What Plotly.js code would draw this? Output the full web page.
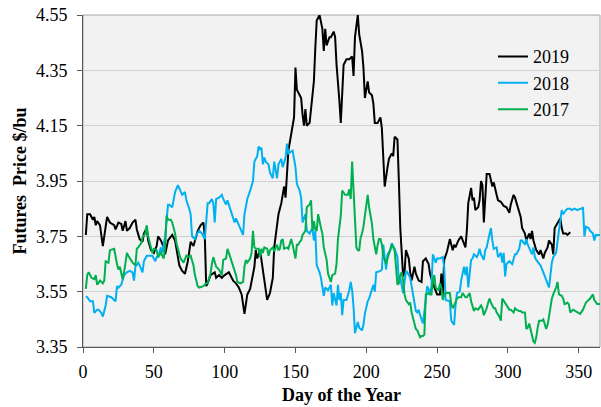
<!DOCTYPE html>
<html>
<head>
<meta charset="utf-8">
<script src="https://cdn.plot.ly/plotly-3.0.1.min.js"></script>
<style>html,body{margin:0;padding:0;background:#fff;}#chart{width:601px;height:407px;}</style>
</head>
<body>
<div id="chart"></div>
<script>
const seriesNames = ["2019", "2018", "2017"];
const seriesColors = ["#000000", "#00b0f0", "#00b050"];

const days2019 = [2,3,5,7,8,9,10,12,14,16,17,19,22,23,25,27,28,30,31,33,35,37,38,40,42,43,45,46,48,50,52,53,55,57,58,60,63,65,68,70,72,74,76,78,81,83,85,86,87,88,90,93,94,96,98,100,103,106,108,110,112,114,116,118,119,121,122,123,125,126,128,130,132,134,135,137,138,140,142,143,144,145,147,149,150,151,153,154,155,156,157,158,160,162,163,164,165,167,169,170,171,172,174,175,177,178,179,181,182,184,186,188,190,191,192,194,195,197,198,199,201,202,204,205,206,208,210,211,213,215,216,218,219,220,222,223,224,226,227,228,230,231,232,234,235,237,239,240,242,244,245,247,249,250,252,253,254,255,257,258,259,261,262,263,265,267,268,270,271,272,274,275,276,277,279,280,281,282,283,285,286,287,289,290,292,293,295,297,299,301,302,304,305,307,309,310,312,313,315,316,317,318,320,322,323,325,326,328,329,331,332,333,335,336,337,338,339,341,342,344];
const price2019 = [3.755,3.83,3.83,3.81,3.82,3.79,3.805,3.79,3.715,3.80,3.82,3.80,3.79,3.775,3.80,3.795,3.77,3.805,3.77,3.78,3.80,3.81,3.775,3.74,3.73,3.76,3.78,3.735,3.70,3.69,3.715,3.75,3.735,3.71,3.685,3.735,3.755,3.735,3.645,3.625,3.615,3.66,3.73,3.715,3.77,3.79,3.80,3.75,3.57,3.58,3.61,3.62,3.60,3.61,3.60,3.61,3.62,3.59,3.58,3.565,3.54,3.47,3.54,3.56,3.59,3.64,3.70,3.67,3.70,3.665,3.60,3.52,3.545,3.60,3.71,3.80,3.83,3.87,3.93,3.89,3.98,4.06,4.12,4.18,4.36,4.28,4.26,4.25,4.19,4.15,4.21,4.15,4.16,4.25,4.31,4.43,4.53,4.55,4.50,4.42,4.50,4.44,4.47,4.47,4.49,4.47,4.37,4.24,4.16,4.37,4.39,4.39,4.40,4.33,4.47,4.55,4.48,4.42,4.36,4.25,4.31,4.27,4.26,4.23,4.16,4.16,4.18,4.14,3.93,4.00,4.03,4.05,4.04,4.11,4.10,3.95,3.78,3.605,3.62,3.70,3.67,3.62,3.59,3.64,3.615,3.59,3.585,3.66,3.67,3.65,3.615,3.58,3.555,3.54,3.54,3.615,3.54,3.665,3.695,3.72,3.74,3.70,3.72,3.71,3.735,3.75,3.735,3.71,3.77,3.87,3.925,3.88,3.89,3.845,3.855,3.88,3.95,3.935,3.80,3.975,3.975,3.975,3.93,3.945,3.90,3.88,3.875,3.86,3.855,3.835,3.865,3.90,3.89,3.855,3.82,3.78,3.76,3.735,3.76,3.74,3.77,3.735,3.70,3.685,3.70,3.67,3.69,3.71,3.735,3.72,3.685,3.78,3.80,3.81,3.815,3.78,3.76,3.76,3.755,3.765];

const days2018 = [2,3,5,7,8,10,11,13,14,16,17,20,22,23,24,25,27,29,31,33,35,36,37,39,40,42,43,45,47,49,51,52,53,55,56,58,60,61,63,64,65,67,69,70,72,73,75,76,77,79,80,82,84,86,88,89,91,92,93,94,96,98,99,101,102,104,105,107,108,110,111,113,114,116,118,120,121,123,124,125,126,127,128,129,131,132,134,135,137,138,140,141,143,144,145,147,148,150,151,153,154,155,157,158,160,162,163,164,165,167,168,170,171,173,175,176,177,179,180,181,182,183,184,186,188,189,190,191,192,194,195,197,198,199,201,202,204,205,206,207,210,211,212,214,215,217,218,220,222,223,224,225,226,228,229,231,232,233,235,236,237,238,239,240,242,243,245,246,247,249,250,252,254,255,256,258,259,260,262,263,264,266,267,269,270,271,272,274,275,276,278,279,280,281,283,284,285,286,288,289,290,292,293,295,296,297,298,299,301,303,304,305,306,308,309,310,312,313,314,315,317,318,319,320,322,323,325,326,328,329,331,332,334,335,336,338,339,341,342,344,345,347,349,351,352,353,354,355,357,358,360,361,362,365];
const price2018 = [3.533,3.53,3.515,3.515,3.473,3.485,3.485,3.473,3.46,3.50,3.535,3.53,3.52,3.515,3.57,3.565,3.575,3.61,3.62,3.625,3.62,3.59,3.64,3.655,3.645,3.62,3.66,3.68,3.68,3.68,3.66,3.675,3.675,3.71,3.69,3.75,3.864,3.864,3.855,3.88,3.91,3.935,3.915,3.90,3.91,3.88,3.85,3.83,3.75,3.74,3.755,3.77,3.76,3.74,3.87,3.87,3.885,3.87,3.80,3.885,3.89,3.90,3.885,3.865,3.88,3.85,3.83,3.80,3.815,3.79,3.775,3.755,3.83,3.885,3.915,3.95,4.02,4.04,4.075,4.065,4.07,4.01,4.035,4.02,4.01,3.98,3.96,4.02,3.96,4.01,4.03,4.00,4.035,4.085,4.05,4.055,4.06,4.00,3.94,3.915,3.89,3.80,3.83,3.77,3.76,3.78,3.735,3.77,3.645,3.62,3.60,3.535,3.565,3.555,3.575,3.50,3.545,3.50,3.575,3.52,3.545,3.465,3.52,3.52,3.555,3.585,3.555,3.495,3.40,3.44,3.42,3.41,3.43,3.47,3.515,3.525,3.555,3.575,3.55,3.62,3.625,3.63,3.72,3.63,3.685,3.70,3.725,3.705,3.675,3.58,3.60,3.57,3.545,3.625,3.62,3.60,3.57,3.54,3.48,3.475,3.485,3.465,3.45,3.435,3.52,3.57,3.545,3.57,3.685,3.655,3.67,3.67,3.675,3.64,3.52,3.515,3.515,3.445,3.43,3.50,3.545,3.55,3.59,3.64,3.61,3.64,3.565,3.665,3.67,3.685,3.675,3.685,3.705,3.685,3.665,3.70,3.71,3.735,3.78,3.735,3.705,3.71,3.675,3.69,3.655,3.69,3.605,3.65,3.66,3.65,3.67,3.685,3.685,3.705,3.735,3.735,3.72,3.74,3.72,3.71,3.685,3.71,3.675,3.665,3.65,3.645,3.62,3.605,3.58,3.565,3.655,3.675,3.69,3.735,3.77,3.845,3.83,3.845,3.85,3.85,3.845,3.85,3.845,3.85,3.85,3.855,3.75,3.785,3.78,3.77,3.76,3.735,3.755,3.755];

const days2017 = [2,3,4,6,8,9,10,12,14,15,16,18,19,21,22,24,25,26,27,28,29,31,32,33,35,37,38,39,41,42,44,45,46,48,49,50,52,53,55,57,58,59,60,62,63,65,66,68,69,71,73,74,76,78,79,81,82,85,87,88,90,91,92,94,95,96,98,99,101,102,103,105,106,108,109,111,113,114,115,116,118,119,120,121,122,124,125,126,127,128,130,131,132,133,134,135,137,138,139,140,141,142,144,145,146,147,148,150,151,152,153,154,155,157,158,159,160,161,162,163,164,165,166,168,169,170,172,173,175,176,178,179,180,182,183,185,187,188,189,190,191,192,193,194,195,196,197,198,200,201,202,203,204,205,207,208,209,210,211,212,214,215,217,218,220,221,222,223,224,225,226,227,228,230,231,232,234,235,236,238,239,240,241,242,244,245,246,247,248,249,251,252,253,254,255,256,258,259,260,261,262,264,265,267,268,270,271,273,274,276,277,279,281,282,283,285,286,287,288,290,291,292,294,295,296,298,299,301,302,304,305,306,308,309,310,312,313,314,315,316,318,319,320,321,322,324,325,327,328,329,330,331,332,334,335,336,338,339,340,342,343,344,346,348,349,351,353,355,356,358,360,361,363,365];
const price2017 = [3.56,3.61,3.62,3.60,3.595,3.61,3.575,3.59,3.58,3.59,3.66,3.655,3.70,3.705,3.705,3.65,3.63,3.64,3.61,3.595,3.62,3.69,3.68,3.67,3.655,3.645,3.705,3.71,3.725,3.745,3.76,3.79,3.75,3.71,3.69,3.705,3.70,3.675,3.69,3.67,3.71,3.825,3.81,3.81,3.80,3.76,3.725,3.685,3.67,3.655,3.68,3.675,3.68,3.645,3.61,3.57,3.565,3.57,3.58,3.58,3.615,3.65,3.675,3.64,3.635,3.63,3.61,3.665,3.67,3.705,3.69,3.66,3.64,3.61,3.585,3.58,3.585,3.64,3.665,3.655,3.67,3.69,3.77,3.71,3.705,3.705,3.675,3.705,3.69,3.71,3.705,3.68,3.70,3.705,3.71,3.695,3.72,3.70,3.705,3.735,3.74,3.705,3.71,3.705,3.725,3.74,3.72,3.67,3.72,3.72,3.73,3.735,3.755,3.77,3.855,3.86,3.865,3.88,3.77,3.805,3.775,3.77,3.83,3.78,3.76,3.71,3.665,3.615,3.585,3.61,3.615,3.65,3.74,3.825,3.915,3.90,3.90,3.92,3.885,4.02,3.925,3.84,3.71,3.70,3.70,3.745,3.76,3.785,3.875,3.90,3.855,3.83,3.795,3.74,3.685,3.72,3.74,3.74,3.72,3.68,3.65,3.67,3.705,3.72,3.70,3.645,3.575,3.58,3.61,3.62,3.59,3.54,3.52,3.505,3.51,3.475,3.435,3.415,3.41,3.385,3.39,3.39,3.395,3.54,3.545,3.54,3.54,3.59,3.61,3.565,3.555,3.58,3.565,3.52,3.54,3.545,3.545,3.545,3.505,3.49,3.50,3.525,3.53,3.53,3.545,3.53,3.53,3.545,3.515,3.48,3.49,3.485,3.50,3.49,3.465,3.49,3.51,3.525,3.51,3.49,3.49,3.475,3.46,3.445,3.525,3.51,3.50,3.485,3.485,3.475,3.49,3.485,3.48,3.48,3.475,3.475,3.415,3.42,3.435,3.41,3.37,3.365,3.385,3.42,3.445,3.445,3.45,3.415,3.43,3.46,3.495,3.525,3.54,3.565,3.585,3.54,3.535,3.525,3.505,3.51,3.505,3.475,3.485,3.48,3.475,3.47,3.485,3.51,3.515,3.525,3.54,3.52,3.505,3.505];

const yTickVals = [3.35, 3.55, 3.75, 3.95, 4.15, 4.35, 4.55];
const yTickText = ["3.35", "3.55", "3.75", "3.95", "4.15", "4.35", "4.55"];
const xTickVals = [0, 50, 100, 150, 200, 250, 300, 350];
const xTickText = ["0", "50", "100", "150", "200", "250", "300", "350"];

const serif = "Liberation Serif, Times New Roman, serif";
const xs = [days2019, days2018, days2017];
const ys = [price2019, price2018, price2017];

const traces = seriesNames.map((n, i) => ({
  type: "scatter", mode: "lines", name: n,
  x: xs[i], y: ys[i],
  line: { color: seriesColors[i], width: 2 },
  hoverinfo: "skip"
}));

const layout = {
  width: 601, height: 407,
  margin: { l: 83, r: 1, t: 15, b: 60, pad: 0 },
  paper_bgcolor: "#ffffff",
  plot_bgcolor: "#f2f2f2",
  font: { family: serif, size: 18, color: "#000000" },
  showlegend: true,
  legend: {
    x: 0.793, y: 0.93, xanchor: "left", yanchor: "top",
    bgcolor: "rgba(0,0,0,0)", borderwidth: 0,
    font: { family: serif, size: 18, color: "#000000" },
    tracegroupgap: 0
  },
  xaxis: {
    range: [0, 365], tickmode: "array", tickvals: xTickVals, ticktext: xTickText,
    showgrid: false, zeroline: false,
    showline: true, linecolor: "#595959", linewidth: 1,
    ticks: "outside", ticklen: 5, tickcolor: "#595959", tickwidth: 1,
    ticklabelstandoff: 3,
    tickfont: { family: serif, size: 18, color: "#000000" },
    title: { text: "Day of the Year", font: { family: serif, size: 18, color: "#000000", weight: "bold" }, standoff: 7 }
  },
  yaxis: {
    range: [3.35, 4.55], tickmode: "array", tickvals: yTickVals, ticktext: yTickText,
    showgrid: true, gridcolor: "#d0d0d0", gridwidth: 1, zeroline: false,
    showline: true, linecolor: "#595959", linewidth: 1,
    ticks: "outside", ticklen: 5, tickcolor: "#595959", tickwidth: 1,
    ticklabelstandoff: 6,
    tickfont: { family: serif, size: 18, color: "#000000" },
    title: { text: "Futures&nbsp;&nbsp;Price $/bu", font: { family: serif, size: 18, color: "#000000", weight: "bold" }, standoff: 4 }
  },
  shapes: [{
    type: "rect", xref: "paper", yref: "paper", x0: 0, x1: 1, y0: 0, y1: 1,
    line: { color: "#a6a6a6", width: 1 }, layer: "below"
  }]
};

Plotly.newPlot("chart", traces, layout, { staticPlot: true, displayModeBar: false });
</script>
</body>
</html>
